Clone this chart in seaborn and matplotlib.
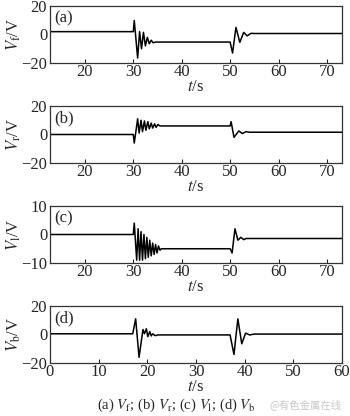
import matplotlib
matplotlib.use("Agg")
import matplotlib.pyplot as plt
import seaborn as sns
import pandas as pd

# ---- data ----
t_f = [12.8, 30.0, 30.2, 30.9, 31.3, 31.7, 32.1, 32.5, 32.9, 33.3, 33.7, 34.1, 34.6, 50.0, 50.5, 51.2, 52.0, 52.8, 53.5, 54.3, 55.0, 73.1]
v_f = [2.0, 2.0, 9.8, -16.5, 2.0, -10.0, 1.5, -8.0, -2.0, -6.5, -4.0, -5.8, -5.3, -5.3, -13.0, 5.0, -5.5, 1.5, -1.0, 0.8, 0.7, 0.7]

t_r = [12.8, 30.0, 30.2, 30.9, 31.2, 31.6, 31.9, 32.3, 32.6, 33.0, 33.3, 33.7, 34.0, 34.4, 34.7, 35.1, 35.5, 50.0, 50.2, 50.8, 51.8, 52.5, 53.3, 54.0, 73.1]
v_r = [0.0, 0.0, -6.0, 11.0, 1.0, 10.0, 2.0, 9.5, 3.0, 9.0, 4.0, 8.0, 4.5, 7.5, 5.0, 7.0, 6.0, 6.0, 9.0, -2.0, 2.5, 0.7, 2.0, 1.6, 1.6]

t_l = [12.8, 30.0, 30.2, 30.7, 31.0, 31.3, 31.6, 31.9, 32.2, 32.5, 32.8, 33.1, 33.4, 33.7, 34.0, 34.3, 34.6, 34.9, 35.2, 35.5, 35.8, 50.0, 50.4, 51.0, 51.6, 52.2, 52.8, 53.3, 73.1]
v_l = [0.0, 0.0, 4.0, -9.0, 2.0, -9.0, 1.0, -9.0, 0.0, -8.5, -1.0, -8.0, -2.0, -7.5, -3.0, -7.0, -3.5, -6.5, -4.0, -5.5, -5.0, -5.0, -6.5, 2.0, -2.0, -1.0, -1.8, -1.4, -1.4]

t_b = [0.0, 17.0, 17.6, 18.3, 19.1, 19.4, 19.8, 20.1, 20.5, 20.8, 21.1, 21.6, 22.2, 37.0, 37.8, 38.6, 39.4, 40.2, 41.0, 42.0, 60.0]
v_b = [0.5, 0.5, 11.0, -16.0, 3.5, 0.5, 4.0, -1.5, 2.0, -1.0, 0.5, -0.8, -0.3, -0.3, -14.0, 11.0, -6.5, 1.0, -0.3, 0.3, 0.3]

panels = ["(a)", "(b)", "(c)", "(d)"]
ylabels = [r"$V_{\rm f}$/V", r"$V_{\rm r}$/V", r"$V_{\rm l}$/V", r"$V_{\rm b}$/V"]
yticks = [[-20, 0, 20], [-20, 0, 20], [-10, 0, 10], [-20, 0, 20]]
xticks_top = [20, 30, 40, 50, 60, 70]
xticks_d = [0, 10, 20, 30, 40, 50, 60]
xlim_top = (12.8, 73.1)
xlim_d = (0, 60)
caption = r"(a) $V_{\rm f}$; (b) $V_{\rm r}$; (c) $V_{\rm l}$; (d) $V_{\rm b}$"
watermark = "@有色金属在线"

sns.set_style("ticks")
plt.rcParams["font.family"] = ["Liberation Serif", "DejaVu Serif"]
plt.rcParams["mathtext.fontset"] = "stix"
plt.rcParams["xtick.direction"] = "in"
plt.rcParams["ytick.direction"] = "in"

fig = plt.figure(figsize=(3.5, 4.16), dpi=100)
W, H = 350.0, 416.0
left, right = 50, 342
tops = [6, 106, 206, 306]
hgt = 57
fs = 12

series = [(t_f, v_f), (t_r, v_r), (t_l, v_l), (t_b, v_b)]
for i, ((tt, vv), lab, yl, yt) in enumerate(zip(series, panels, ylabels, yticks)):
    top = tops[i]
    ax = fig.add_axes([left / W, 1 - (top + hgt) / H, (right - left) / W, hgt / H])
    df = pd.DataFrame({"t": tt, "v": vv})
    sns.lineplot(data=df, x="t", y="v", ax=ax, color="black", linewidth=1.1, sort=False)
    ax.set_ylim(yt[0], yt[-1])
    ax.set_yticks(yt)
    ax.set_yticklabels(["\u2212" + str(-y) if y < 0 else str(y) for y in yt])
    if i < 3:
        ax.set_xlim(*xlim_top)
        ax.set_xticks(xticks_top)
    else:
        ax.set_xlim(*xlim_d)
        ax.set_xticks(xticks_d)
    ax.tick_params(axis="x", length=3, width=0.8, labelsize=fs, pad=1)
    ax.tick_params(axis="y", length=0, labelsize=fs, pad=2)
    ax.set_xlabel(r"$t$/s", fontsize=fs, labelpad=-1)
    ax.set_ylabel(yl, fontsize=fs, labelpad=-1)
    for sp in ax.spines.values():
        sp.set_linewidth(0.9)
        sp.set_color("#333333")
    ax.text(0.015, 0.93, lab, transform=ax.transAxes, fontsize=fs, va="top", ha="left")

fig.text(176 / W, 1 - 405 / H, caption, fontsize=10.5, ha="center", va="center")
fig.text(305 / W, 1 - 405 / H, watermark, fontsize=7.5, ha="center", va="center",
         color="#c8c8c8", family=["Noto Sans CJK SC", "DejaVu Sans"])

fig.savefig("out.png", dpi=100)
